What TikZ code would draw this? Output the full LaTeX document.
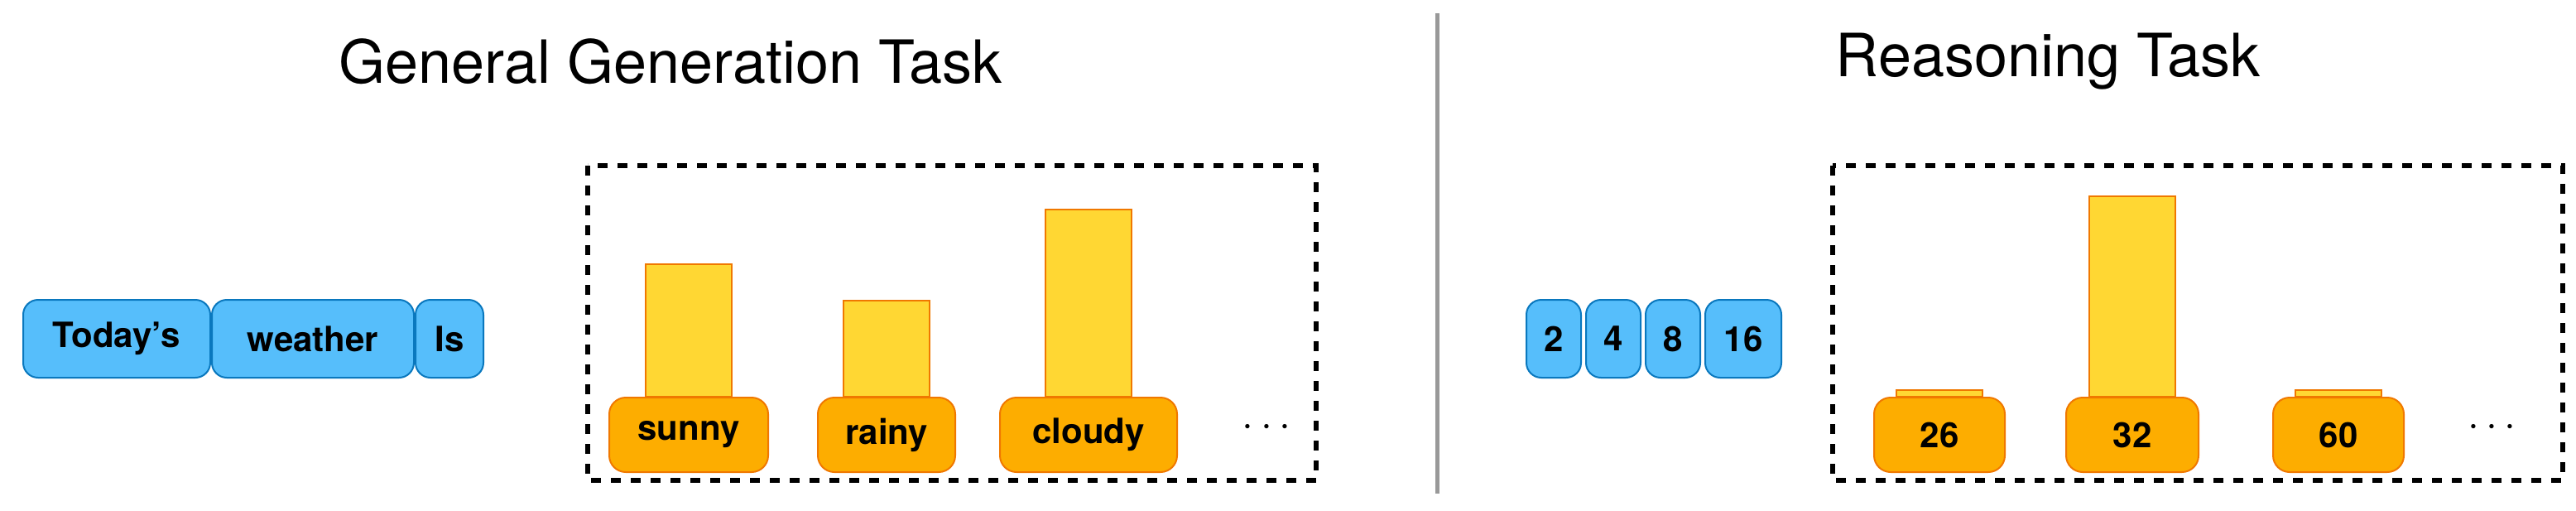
\documentclass[tikz,border=0pt]{standalone}
\usepackage{fontspec}
\setmainfont{TeX Gyre Heros}
\usetikzlibrary{positioning,calc}

\definecolor{tokblue}{HTML}{56BEFB}
\definecolor{tokline}{HTML}{0A78BE}
\definecolor{candfill}{HTML}{FDAD00}
\definecolor{candline}{HTML}{F07800}
\definecolor{barfill}{HTML}{FFD733}

\begin{document}
\begin{tikzpicture}[
        x=1pt,y=-1pt,
        inword/.style={draw=tokline,fill=tokblue,line width=1pt,rounded corners=9pt,
            minimum height=47pt,inner sep=0pt,font=\fontsize{21}{24}\selectfont\bfseries},
        cand/.style={draw=candline,fill=candfill,line width=1pt,rounded corners=10pt,
            minimum height=45pt,inner sep=0pt,font=\fontsize{21}{24}\selectfont\bfseries},
        bar/.style={draw=candline,fill=barfill,line width=1pt},
        title/.style={font=\fontsize{36}{40}\selectfont}
    ]
    \useasboundingbox (0,0) rectangle (1556,308);

    % left half
    \node [title] (gtitle) at (405,37) {General Generation Task};
    \node [inword,minimum width=113pt] (w1) at (70.5,204.5) {Today’s};
    \node [inword,minimum width=122pt,right=0pt of w1] (w2) {weather};
    \node [inword,minimum width=41pt,right=0pt of w2] (w3) {Is};

    \draw [line width=2.6pt,dash pattern=on 6pt off 6pt] (355,100) rectangle (795,290);
    \node [cand,minimum width=96pt] (sunny) at (416,262.5) {sunny};
    \node [cand,minimum width=83pt] (rainy) at (535.5,262.5) {rainy};
    \node [cand,minimum width=107pt] (cloudy) at (657.5,262.5) {cloudy};
    \draw [bar] ($(sunny.north)+(-26,0)$) rectangle ($(sunny.north)+(26,-80)$);
    \draw [bar] ($(rainy.north)+(-26,0)$) rectangle ($(rainy.north)+(26,-58)$);
    \draw [bar] ($(cloudy.north)+(-26,0)$) rectangle ($(cloudy.north)+(26,-113)$);
    \node [font=\fontsize{24}{24}\selectfont\bfseries] (gdots) at (765,258) {$\cdots$};

    % divider
    \draw [gray!80,line width=2.5pt] (868,8) -- (868,298);

    % right half
    \node [title] (rtitle) at (1237,37) {Reasoning Task};
    \node [inword,minimum width=33pt] (n1) at (938.5,204.5) {2};
    \node [inword,minimum width=33pt,right=2pt of n1] (n2) {4};
    \node [inword,minimum width=33pt,right=2pt of n2] (n3) {8};
    \node [inword,minimum width=46pt,right=2pt of n3] (n4) {16};

    \draw [line width=2.6pt,dash pattern=on 6pt off 6pt] (1107,100) rectangle (1548,290);
    \node [cand,minimum width=79pt] (c26) at (1171.5,262.5) {26};
    \node [cand,minimum width=80pt] (c32) at (1288,262.5) {32};
    \node [cand,minimum width=79pt] (c60) at (1412.5,262.5) {60};
    \draw [bar] ($(c26.north)+(-26,0)$) rectangle ($(c26.north)+(26,-4)$);
    \draw [bar] ($(c32.north)+(-26,0)$) rectangle ($(c32.north)+(26,-121)$);
    \draw [bar] ($(c60.north)+(-26,0)$) rectangle ($(c60.north)+(26,-4)$);
    \node [font=\fontsize{24}{24}\selectfont\bfseries] (rdots) at (1505,258) {$\cdots$};
\end{tikzpicture}
\end{document}
